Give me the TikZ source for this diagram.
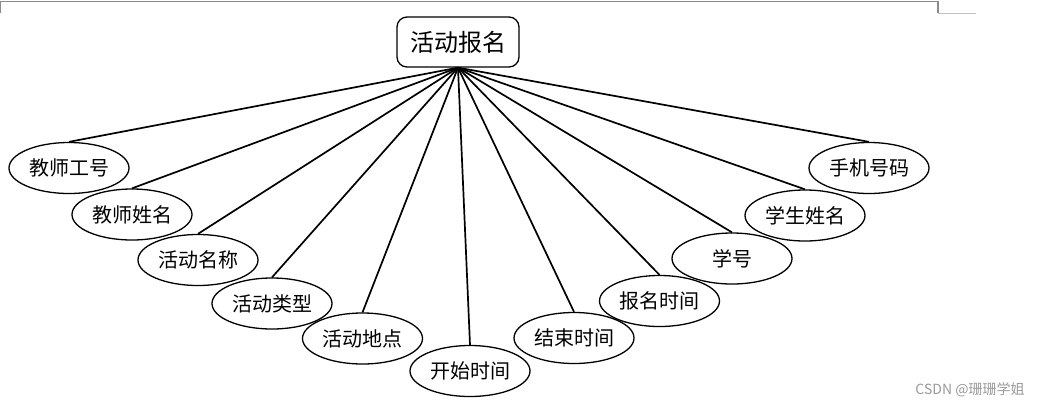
\documentclass[tikz,border=0pt]{standalone}
\usepackage{fontspec}
\newfontfamily\cjk{Noto Sans CJK SC}
\usetikzlibrary{positioning,shapes.geometric}

\begin{document}
\begin{tikzpicture}[
	x=1pt, y=-1pt,
	entity/.style={draw, rounded corners=10pt, line width=1.3pt, minimum width=122pt, minimum height=50pt, inner sep=0pt, font=\cjk\fontsize{24}{24}\selectfont},
	attr/.style={draw, ellipse, fill=white, line width=1.3pt, minimum width=120pt, minimum height=51pt, inner sep=0pt, font=\cjk\fontsize{20}{20}\selectfont},
	link/.style={line width=1.7pt}]
	\useasboundingbox (0,0) rectangle (1052,408);
	% page frame
	\draw[gray!90, line width=1.2pt] (0,13) -- (0,1.3) -- (938,1.3) -- (938,13);
	\draw[gray!50, line width=1pt] (938,13) -- (976,13);
	\node[entity] (bm) at (458,42) {活动报名};
	\node[attr] (jsgh) at (69,168) {教师工号};
	\node[attr] (jsxm) at (132,214.5) {教师姓名};
	\node[attr] (hdmc) at (198,260) {活动名称};
	\node[attr] (hdlx) at (272,303.5) {活动类型};
	\node[attr] (hddd) at (362.5,338.5) {活动地点};
	\node[attr] (kssj) at (470,371) {开始时间};
	\node[attr] (jssj) at (574,338) {结束时间};
	\node[attr] (bmsj) at (659.5,301) {报名时间};
	\node[attr] (xh) at (732,258.5) {学号};
	\node[attr] (xsxm) at (805,215.5) {学生姓名};
	\node[attr] (sjhm) at (869,168) {手机号码};
	\draw[link] (bm.south) -- (jsgh.north);
	\draw[link] (bm.south) -- (jsxm.north);
	\draw[link] (bm.south) -- (hdmc.north);
	\draw[link] (bm.south) -- (hdlx.north);
	\draw[link] (bm.south) -- (hddd.north);
	\draw[link] (bm.south) -- (kssj.north);
	\draw[link] (bm.south) -- (jssj.north);
	\draw[link] (bm.south) -- (bmsj.north);
	\draw[link] (bm.south) -- (xh.north);
	\draw[link] (bm.south) -- (xsxm.north);
	\draw[link] (bm.south) -- (sjhm.north);
	\node[text=gray!80, font=\cjk\fontsize{14}{14}\selectfont] (wm) at (970,390) {CSDN @珊珊学姐};
\end{tikzpicture}
\end{document}
